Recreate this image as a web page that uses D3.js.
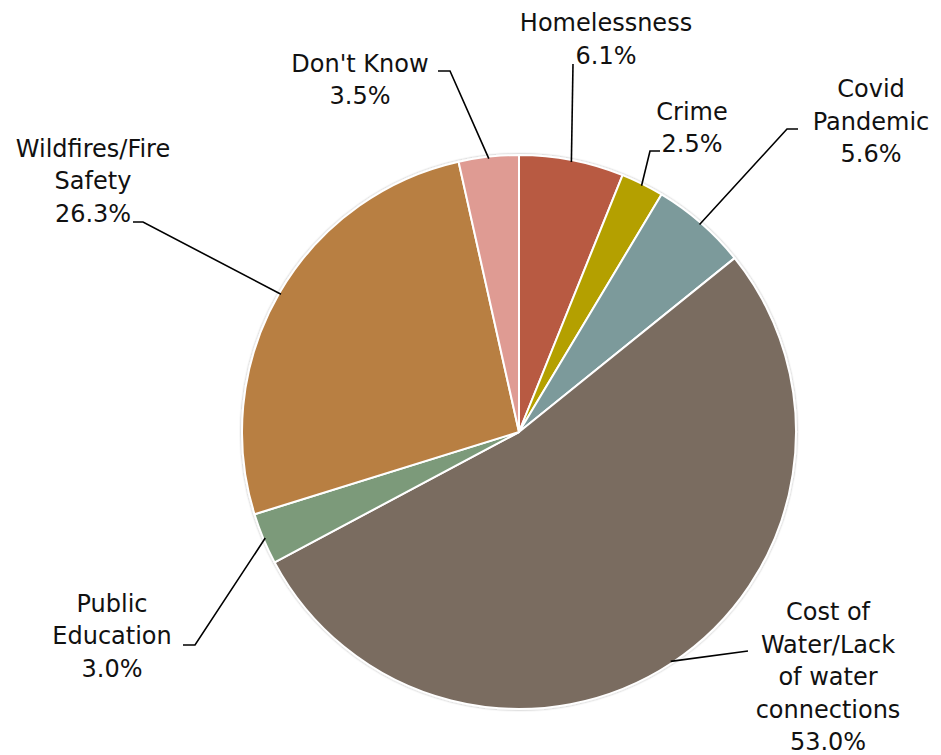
<!DOCTYPE html>
<html>
<head>
<meta charset="utf-8">
<script src="https://cdn.jsdelivr.net/npm/d3@7"></script>
<style>
  html, body { margin: 0; padding: 0; background: #fff; }
  svg { display: block; }
  text { font-family: "DejaVu Sans", "Noto Sans", sans-serif; font-size: 24px; fill: #111; }
</style>
</head>
<body>
<svg id="chart" width="941" height="755"></svg>
<script>
// Survey shares (percent), clockwise from 12 o'clock
const categories = [
  "Homelessness",
  "Crime",
  "Covid Pandemic",
  "Cost of Water/Lack of water connections",
  "Public Education",
  "Wildfires/Fire Safety",
  "Don't Know"
];
const values = [6.1, 2.5, 5.6, 53.0, 3.0, 26.3, 3.5];
const colors = ["#B85A43", "#B4A002", "#7B9A9B", "#7A6C61", "#7C9A7A", "#B87F43", "#DF9B93"];

// Wrapped label text for each slice (the value line is appended from `values`)
const labelLines = [
  ["Homelessness"],
  ["Crime"],
  ["Covid", "Pandemic"],
  ["Cost of", "Water/Lack", "of water", "connections"],
  ["Public", "Education"],
  ["Wildfires/Fire", "Safety"],
  ["Don't Know"]
];

// Label placement: text centre x, first baseline y, and leader-line bend points
const labelLayout = [
  { x: 606, y: 31,    bend: [[573, 64]] },
  { x: 692, y: 119.5, bend: [[650, 151], [660, 151]] },
  { x: 871, y: 97,    bend: [[787, 129], [798, 129]] },
  { x: 828, y: 620,   bend: [[748, 651]] },
  { x: 112, y: 611.5, bend: [[195, 645], [183, 645]] },
  { x: 93,  y: 156.5, bend: [[143, 222], [133, 222]] },
  { x: 360, y: 71.5,  bend: [[450, 71], [438, 71]] }
];

const lineHeight = 32.5;
const cx = 519, cy = 432, radius = 277;

const svg = d3.select("#chart");

const defs = svg.append("defs");
const shadow = defs.append("filter").attr("id", "soft").attr("x", "-10%").attr("y", "-10%").attr("width", "120%").attr("height", "120%");
shadow.append("feDropShadow").attr("dx", 0).attr("dy", 0).attr("stdDeviation", 1.2)
  .attr("flood-color", "#000").attr("flood-opacity", 0.35);

const pie = d3.pie().sort(null).value(d => d)(values);
const arc = d3.arc().innerRadius(0).outerRadius(radius);
const edge = d3.arc().innerRadius(radius - 2).outerRadius(radius - 2);

const g = svg.append("g").attr("transform", `translate(${cx},${cy})`);

g.append("g").attr("filter", "url(#soft)")
  .selectAll("path")
  .data(pie)
  .join("path")
  .attr("d", arc)
  .attr("fill", (d, i) => colors[i])
  .attr("stroke", "#fff")
  .attr("stroke-width", 2)
  .attr("stroke-linejoin", "round");

// Leader lines from the slice edge to the label
const line = d3.line();
svg.append("g").selectAll("path")
  .data(pie)
  .join("path")
  .attr("d", (d, i) => {
    const [px, py] = edge.centroid(d);
    return line([[cx + px, cy + py], ...labelLayout[i].bend]);
  })
  .attr("fill", "none")
  .attr("stroke", "#000")
  .attr("stroke-width", 1.6);

// Labels: category lines followed by the percentage
const labels = svg.append("g").selectAll("text")
  .data(pie)
  .join("text")
  .attr("text-anchor", "middle")
  .attr("transform", (d, i) => `translate(${labelLayout[i].x},${labelLayout[i].y})`);

labels.each(function (d, i) {
  const t = d3.select(this);
  const rows = [...labelLines[i], values[i].toFixed(1) + "%"];
  rows.forEach((r, k) => {
    t.append("tspan").attr("x", 0).attr("y", k * lineHeight).text(r);
  });
});
</script>
</body>
</html>
